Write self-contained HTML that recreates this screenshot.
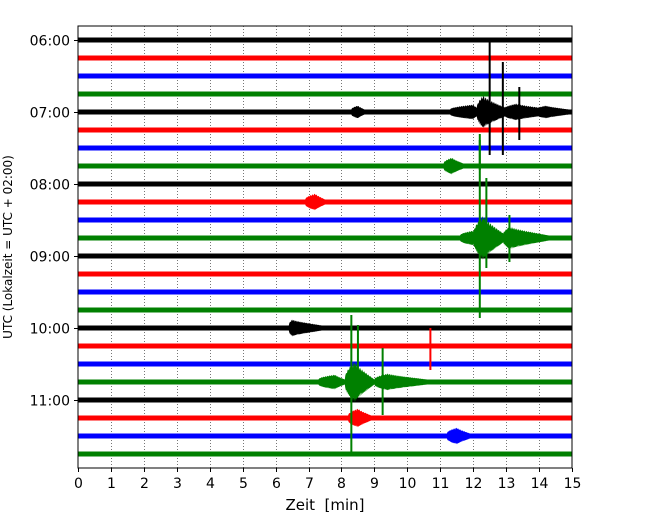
<!DOCTYPE html>
<html><head><meta charset="utf-8">
<style>
body{margin:0;background:#fff;font-family:"Liberation Sans","DejaVu Sans",sans-serif;}
svg text{font-family:"DejaVu Sans","Liberation Sans",sans-serif;}
</style></head>
<body>
<svg id="chart" width="650" height="520" viewBox="0 0 650 520" xmlns="http://www.w3.org/2000/svg">
<rect x="0" y="0" width="650" height="520" fill="#fff"/>
<g id="grid"></g>
<g id="traces"></g>
<rect x="78" y="26" width="494" height="442" fill="none" stroke="#000" stroke-width="1"/>
<g id="xaxis"></g>
<g id="yaxis"></g>
<text x="325" y="510" font-size="15" text-anchor="middle">Zeit&#160;&#160;[min]</text>
<text transform="translate(12,247) rotate(-90)" font-size="12" text-anchor="middle">UTC (Lokalzeit = UTC + 02:00)</text>
</svg>
<script>
const xTicks=[0,1,2,3,4,5,6,7,7.999,9,10,11,12,13,14,15];
const xTickLabels=["0","1","2","3","4","5","6","7","8","9","10","11","12","13","14","15"];
const rowColors=["#000","red","blue","green"];
const rowCount=24;
const hourLabels=["06:00","07:00","08:00","09:00","10:00","11:00"];
// events: row index, start min, peak min, end min, amplitude (px)
const evRow=[4,4,4,4,4,7,9,11,11,11,16,19,19,19,21,22];
const evStart=[8.3,11.3,12.1,12.9,13.9,11.1,6.9,11.6,12.0,12.9,6.4,7.3,8.1,9.0,8.2,11.2];
const evPeak=[8.5,12.0,12.3,13.3,14.2,11.35,7.2,12.0,12.3,13.1,6.5,7.8,8.4,9.4,8.5,11.5];
const evEnd=[8.7,12.2,13.1,14.4,14.9,11.7,7.5,12.1,13.0,14.3,7.4,8.1,9.0,10.6,8.9,11.9];
const evAmp=[4,5,14,6,4,6,6,5,20,9,6,5,18,6,7,6];
// spikes: row, minute, up amplitude, down amplitude
const spRow=[4,4,4,7,11,11,11,17,19,19,19];
const spT=[12.5,12.9,13.4,12.2,12.2,12.4,13.1,10.7,8.3,8.5,9.25];
const spUp=[70,50,25,32,98,60,23,18,67,57,34];
const spDown=[43,43,28,4,80,30,24,24,74,13,33];

const X0=78,X1=572,Y0=26,Y1=468;
const xs=m=>X0+(X1-X0)*m/15;
const rowY=r=>40+r*18;
const ns="http://www.w3.org/2000/svg";
function mk(tag,attrs,parent){const e=document.createElementNS(ns,tag);for(const k in attrs)e.setAttribute(k,attrs[k]);parent.appendChild(e);return e;}
const grid=document.getElementById('grid'),tr=document.getElementById('traces'),xa=document.getElementById('xaxis'),ya=document.getElementById('yaxis');
xTicks.forEach((t,i)=>{
  const x=Math.round(xs(t))+0.5;
  if(i>0&&i<xTicks.length-1){const g=mk('line',{x1:x,x2:x,y1:Y0,y2:Y1,stroke:'#555','stroke-width':0.8,'stroke-dasharray':'1,2'},grid);
  
  }
  const tk=mk('line',{x1:x,x2:x,y1:Y1,y2:Y1+4,stroke:'#000'},xa);
  
  
  const tl=mk('text',{x:x,y:Y1+20,'font-size':14,'text-anchor':'middle'},xa);tl.textContent=xTickLabels[i];
  
  
});
hourLabels.forEach((h,i)=>{
  const y=rowY(i*4)+0.5;
  const tk=mk('line',{x1:X0-4,x2:X0,y1:y,y2:y,stroke:'#000'},ya);
  
  
  const tl=mk('text',{x:X0-8,y:y+5,'font-size':14,'text-anchor':'end'},ya);tl.textContent=h;
  
  
});
for(let r=0;r<rowCount;r++){
  const c=rowColors[r%4],y=rowY(r);
  const b=mk('rect',{x:X0,y:y-2.5,width:X1-X0,height:5,fill:c},tr);
  
  
}
function env(i,t){const s=evStart[i],p=evPeak[i],e=evEnd[i];if(t<s||t>e)return 0;
  if(t<p)return Math.sqrt((t-s)/(p-s));return Math.exp(-1.5*(t-p)/(e-p))*(1-Math.pow((t-p)/(e-p),4));}
evRow.forEach((r,i)=>{
  const y=rowY(r),c=rowColors[r%4];let up=[],dn=[];
  const n=Math.max(20,Math.round((evEnd[i]-evStart[i])*60));
  for(let k=0;k<=n;k++){const t=evStart[i]+(evEnd[i]-evStart[i])*k/n;
    const a=2.5+evAmp[i]*env(i,t)*(0.7+0.3*Math.abs(Math.sin(k*2.3)));
    const a2=2.5+evAmp[i]*env(i,t)*(0.7+0.3*Math.abs(Math.sin(k*1.7+1)));
    up.push(xs(t).toFixed(1)+','+(y-a).toFixed(1));dn.unshift(xs(t).toFixed(1)+','+(y+a2).toFixed(1));}
  const p=mk('polygon',{points:up.concat(dn).join(' '),fill:c},tr);
  
  
});
spRow.forEach((r,i)=>{
  const y=rowY(r),x=xs(spT[i]),c=rowColors[r%4];
  const l=mk('line',{x1:x,x2:x,y1:y-spUp[i],y2:y+spDown[i],stroke:c,'stroke-width':2},tr);
  
  
});
</script>
</body></html>
